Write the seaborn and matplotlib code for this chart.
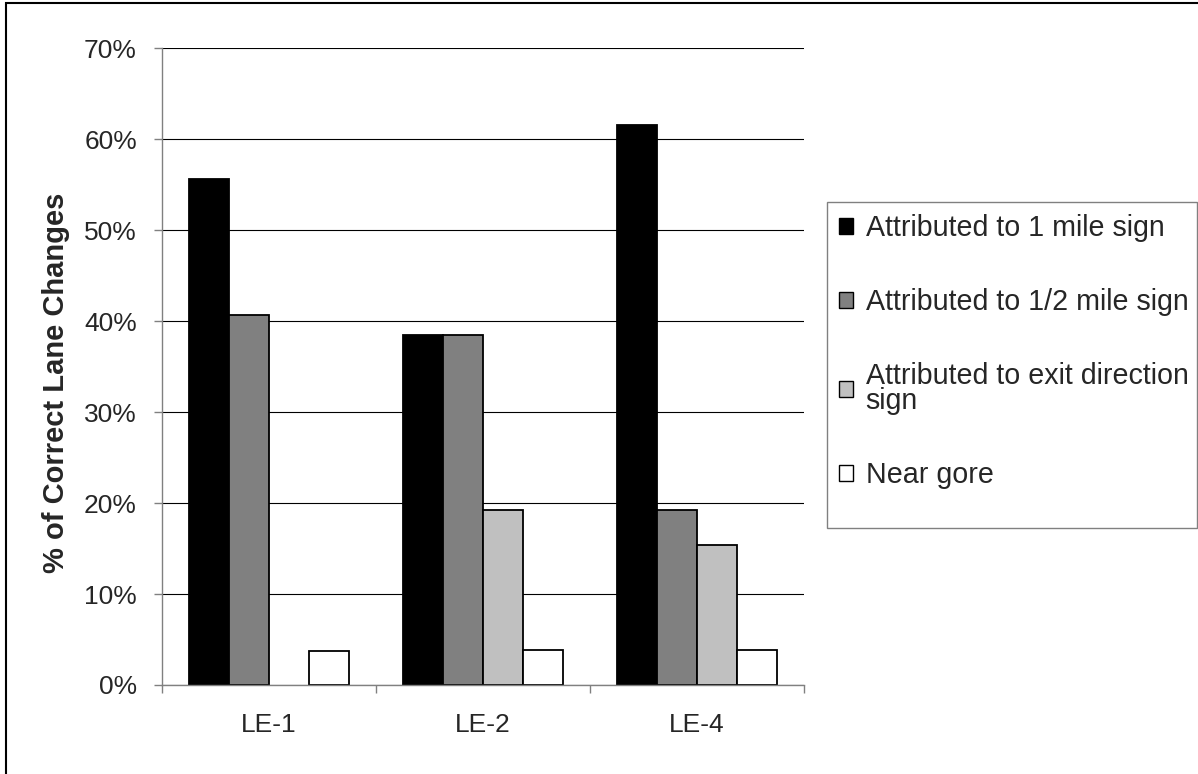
import numpy as np
import pandas as pd
import matplotlib
matplotlib.use("Agg")
import matplotlib.pyplot as plt
from matplotlib.patches import Patch, Rectangle
from matplotlib.ticker import PercentFormatter, FixedLocator
import seaborn as sns

# ---- data ----
sites = ["LE-1", "LE-2", "LE-4"]
series = ["Attributed to 1 mile sign", "Attributed to 1/2 mile sign",
          "Attributed to exit direction sign", "Near gore"]
legend_labels = ["Attributed to 1 mile sign", "Attributed to 1/2 mile sign",
                 "Attributed to exit direction\nsign", "Near gore"]
one_mile = [55.6, 38.5, 61.5]
half_mile = [40.7, 38.5, 19.2]
exit_direction = [0.0, 19.2, 15.4]
near_gore = [3.7, 3.8, 3.8]
colors = ["#000000", "#808080", "#C0C0C0", "#FFFFFF"]
yticks = [0, 10, 20, 30, 40, 50, 60, 70]
ylabel = "% of Correct Lane Changes"

values = [one_mile, half_mile, exit_direction, near_gore]
df = pd.DataFrame({
    "site": [s for _ in series for s in sites],
    "source": [name for name in series for _ in sites],
    "pct": [v for vals in values for v in vals],
})

sns.set_style("white")
plt.rcParams["font.family"] = ["Liberation Sans", "DejaVu Sans"]

W, H = 1198, 774
fig = plt.figure(figsize=(W / 100, H / 100), dpi=100)
ax = fig.add_axes([162 / W, 1 - 685 / H, (804 - 162) / W, (685 - 48) / H])

sns.barplot(data=df, x="site", y="pct", hue="source", hue_order=series,
            order=sites, palette=colors, edgecolor="black", linewidth=1.3,
            width=0.75, gap=0, legend=False, ax=ax, errorbar=None,
            saturation=1)

for p in ax.patches:
    if p.get_height() == 0:
        p.set_linewidth(0)

ax.set_xlim(-0.5, 2.5)
ax.set_ylim(0, 70)
ax.set_yticks(yticks)
ax.yaxis.set_major_formatter(PercentFormatter(xmax=100, decimals=0))
ax.set_axisbelow(True)
ax.grid(axis="y", color="black", linewidth=0.8)
ax.grid(axis="x", visible=False)

for side in ["top", "right"]:
    ax.spines[side].set_visible(False)
for side in ["left", "bottom"]:
    ax.spines[side].set_color("#808080")
    ax.spines[side].set_linewidth(1.0)

fs = 19
fs_big = 21
fs_leg = 20.6
ax.tick_params(axis="y", which="major", direction="out", length=6, width=1,
               color="#808080", pad=12, labelsize=fs, left=True)
ax.xaxis.set_minor_locator(FixedLocator([-0.5, 0.5, 1.5, 2.5]))
ax.tick_params(axis="x", which="major", length=0, pad=20, labelsize=fs)
ax.tick_params(axis="x", which="minor", direction="out", length=6, width=1,
               color="#808080", bottom=True)
ax.set_xlabel("")
ax.set_ylabel(ylabel, fontsize=fs_big, fontweight="bold")
ax.yaxis.set_label_coords((70 - 162) / (804 - 162), (685 - 383) / (685 - 48))

# legend
handles = [Patch(facecolor=c, edgecolor="black", linewidth=1.0) for c in colors]
leg = fig.legend(handles, legend_labels, loc="upper left",
                 bbox_to_anchor=(827 / W, 1 - 202 / H), frameon=False,
                 fontsize=fs_leg, handlelength=0.48, handleheight=0.48,
                 handletextpad=0.45, labelspacing=1.6, borderpad=0.42,
                 borderaxespad=0)
for t in leg.get_texts():
    t.set_linespacing(0.9)
fig.add_artist(Rectangle((827 / W, 1 - 528 / H), (1197 - 827) / W, (528 - 202) / H,
                         transform=fig.transFigure, facecolor="none",
                         edgecolor="#808080", linewidth=1.0))

# outer chart border
fig.add_artist(Rectangle((6 / W, -0.05), 1.2, 1 - 3 / H + 0.05,
                         transform=fig.transFigure, facecolor="none",
                         edgecolor="black", linewidth=1.5, clip_on=False))

fig.savefig("out.png", dpi=100)
